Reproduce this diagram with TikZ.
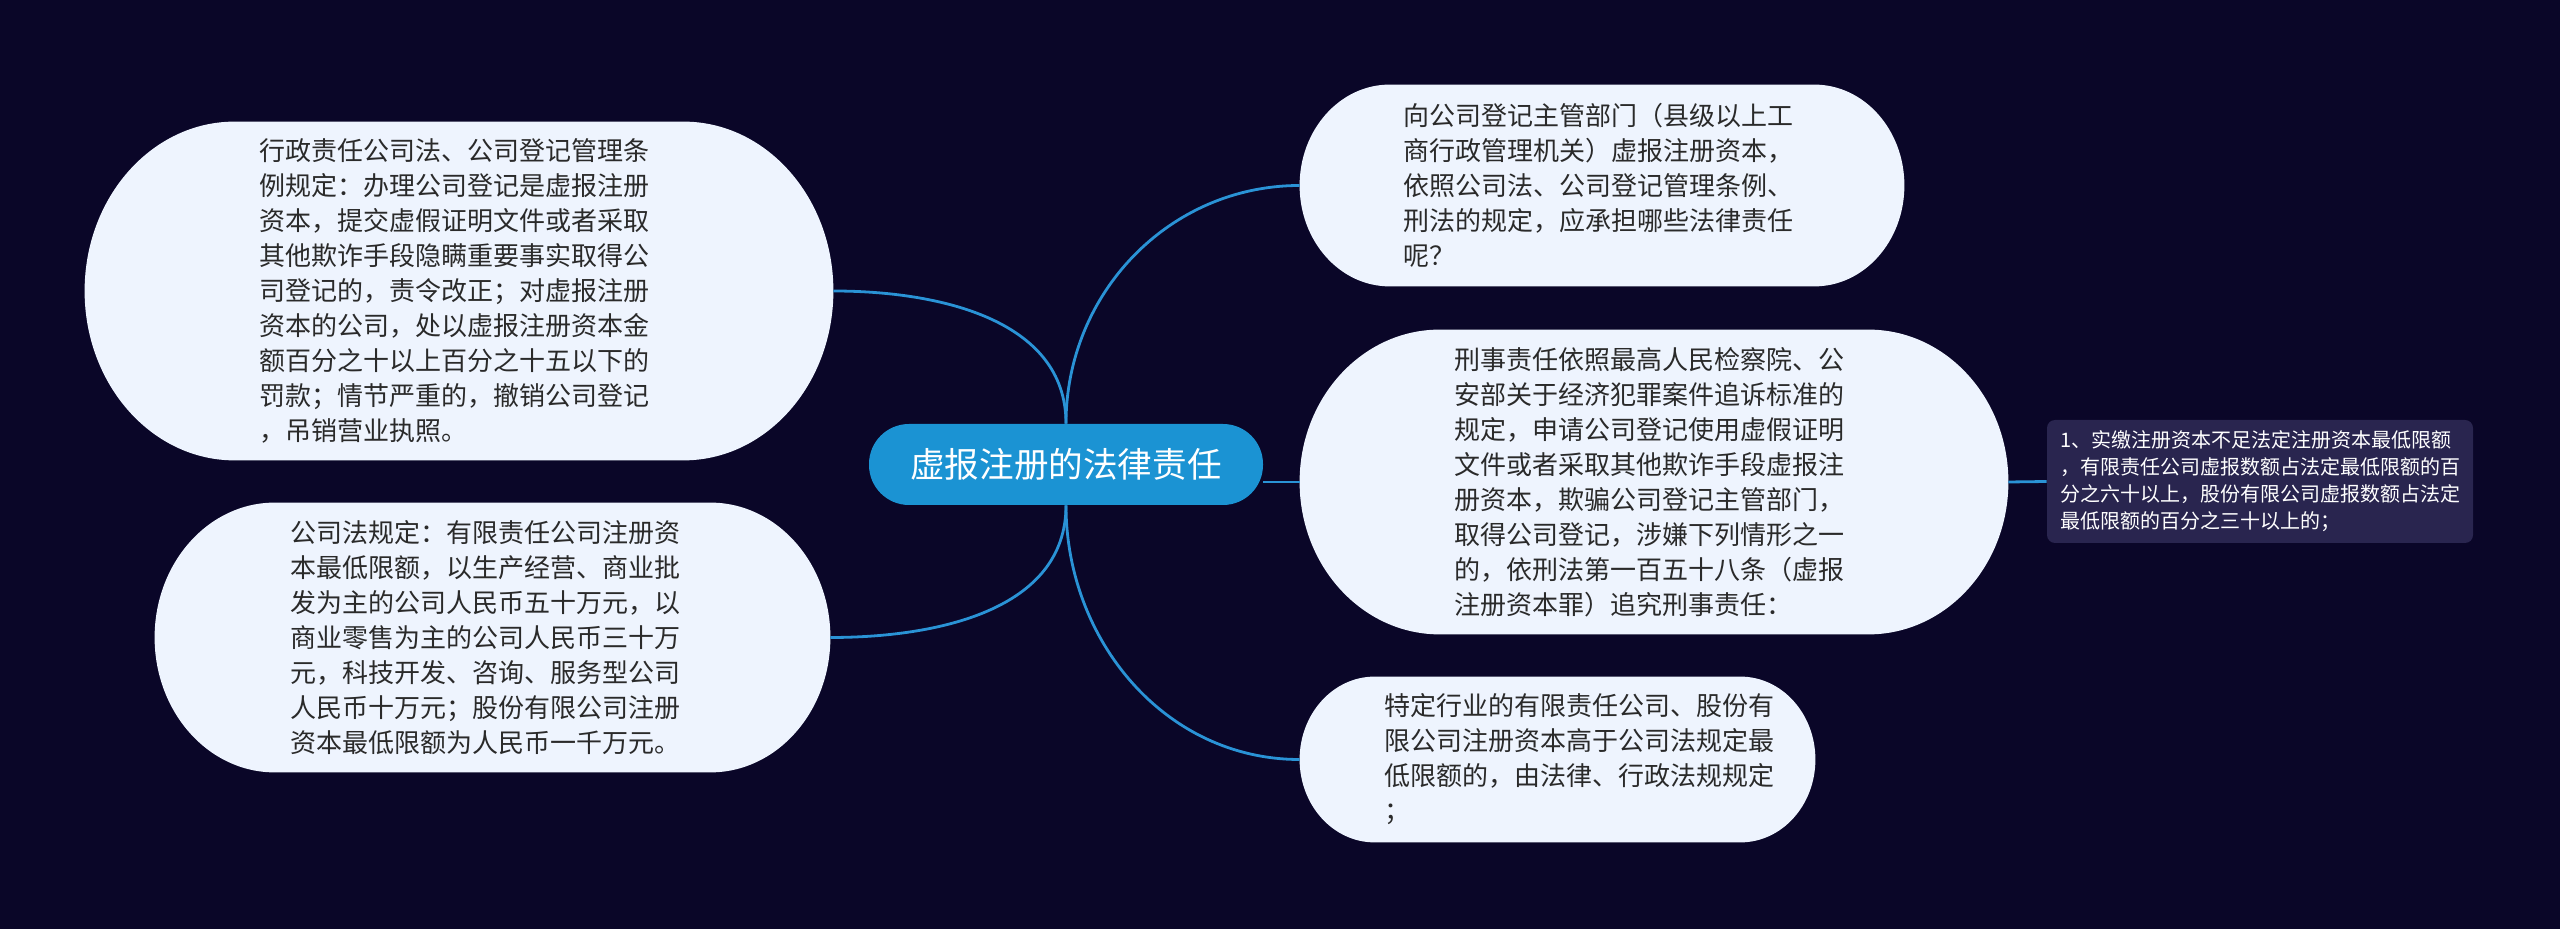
\documentclass[tikz,border=0pt]{standalone}
\usepackage{fontspec}
\newfontfamily\cjk{Noto Sans CJK SC}
\usetikzlibrary{calc,backgrounds}
\definecolor{bg}{HTML}{0A0628}
\definecolor{pale}{HTML}{EEF4FE}
\definecolor{hub}{HTML}{1B93D3}
\definecolor{wire}{HTML}{2A93D6}
\definecolor{leaf}{HTML}{29254F}
\definecolor{ink}{HTML}{2A2A2A}
\tikzset{
  pill/.style={inner sep=0pt},
  box/.style={inner sep=0pt, align=left, text=ink, font=\cjk\fontsize{13pt}{17.5pt}\selectfont},
  link/.style={draw=wire, line width=1.4pt},
}
\newcommand\pillshape[2]{%
  \fill[pale] let \p1=(#1.north west), \p2=(#1.south east), \n1={(\y1-\y2)/2} in
    (\x1+#2,\y1) -- (\x2-#2,\y1)
    arc[start angle=90,end angle=-90,x radius=#2,y radius=\n1]
    -- (\x1+#2,\y2)
    arc[start angle=270,end angle=90,x radius=#2,y radius=\n1] -- cycle;
}
\begin{document}
\begin{tikzpicture}[x=0.5pt,y=0.5pt]
\useasboundingbox (0,0) rectangle (2560,-929);

\node[inner sep=0pt, minimum width=197pt, minimum height=40.5pt, fill=hub,
      rounded corners=20pt, text=white, font=\cjk\fontsize{17.3pt}{21pt}\selectfont]
      (c) at (1066,-464.5) {虚报注册的法律责任};

% shapes of the topic boxes
\node[pill, minimum width=374pt, minimum height=169pt] (tl) at (459,-291) {};
\node[pill, minimum width=337.5pt, minimum height=134.5pt] (bl) at (492.5,-637.5) {};
\node[pill, minimum width=302pt, minimum height=100.5pt] (tr) at (1602,-185.5) {};
\node[pill, minimum width=354pt, minimum height=152pt] (mr) at (1654,-482) {};
\node[pill, minimum width=257.5pt, minimum height=82.5pt] (br) at (1557.5,-759.5) {};

% texts of the topic boxes
\node[box] (tlt) at ([xshift=-2.5pt]tl.center)
{行政责任公司法、公司登记管理条\\
例规定：办理公司登记是虚报注册\\
资本，提交虚假证明文件或者采取\\
其他欺诈手段隐瞒重要事实取得公\\
司登记的，责令改正；对虚报注册\\
资本的公司，处以虚报注册资本金\\
额百分之十以上百分之十五以下的\\
罚款；情节严重的，撤销公司登记\\
，吊销营业执照。};

\node[box] (blt) at ([xshift=-3.5pt]bl.center)
{公司法规定：有限责任公司注册资\\
本最低限额，以生产经营、商业批\\
发为主的公司人民币五十万元，以\\
商业零售为主的公司人民币三十万\\
元，科技开发、咨询、服务型公司\\
人民币十万元；股份有限公司注册\\
资本最低限额为人民币一千万元。};

\node[box] (trt) at ([xshift=-2pt]tr.center)
{向公司登记主管部门（县级以上工\\
商行政管理机关）虚报注册资本，\\
依照公司法、公司登记管理条例、\\
刑法的规定，应承担哪些法律责任\\
呢？};

\node[box] (mrt) at ([xshift=-2.5pt]mr.center)
{刑事责任依照最高人民检察院、公\\
安部关于经济犯罪案件追诉标准的\\
规定，申请公司登记使用虚假证明\\
文件或者采取其他欺诈手段虚报注\\
册资本，欺骗公司登记主管部门，\\
取得公司登记，涉嫌下列情形之一\\
的，依刑法第一百五十八条（虚报\\
注册资本罪）追究刑事责任：};

\node[box] (brt) at ([xshift=11pt]br.center)
{特定行业的有限责任公司、股份有\\
限公司注册资本高于公司法规定最\\
低限额的，由法律、行政法规规定\\
；};

\node[inner sep=0pt, minimum width=213pt, minimum height=61.5pt, fill=leaf,
      rounded corners=4pt, align=left, text=white,
      font=\cjk\fontsize{10pt}{13.5pt}\selectfont] (fr) at (2260,-481.5)
{1、实缴注册资本不足法定注册资本最低限额\\
，有限责任公司虚报数额占法定最低限额的百\\
分之六十以上，股份有限公司虚报数额占法定\\
最低限额的百分之三十以上的；};

\begin{scope}[on background layer]
  \fill[bg] (0,0) rectangle (2560,-929);
  \pillshape{tl}{75pt}
  \pillshape{bl}{60pt}
  \pillshape{tr}{45pt}
  \pillshape{mr}{70pt}
  \pillshape{br}{37.5pt}
\end{scope}

\draw[link] (c.north) to[out=90,in=0] (tl.east);
\draw[link] (c.north) to[out=90,in=180] (tr.west);
\draw[link] (c.south) to[out=-90,in=0] (bl.east);
\draw[link] (c.south) to[out=-90,in=180] (br.west);
\draw[link] (mr.west) -- (mr.west -| c.east);
\draw[link] (mr.east) -- (fr.west);
\end{tikzpicture}
\end{document}
